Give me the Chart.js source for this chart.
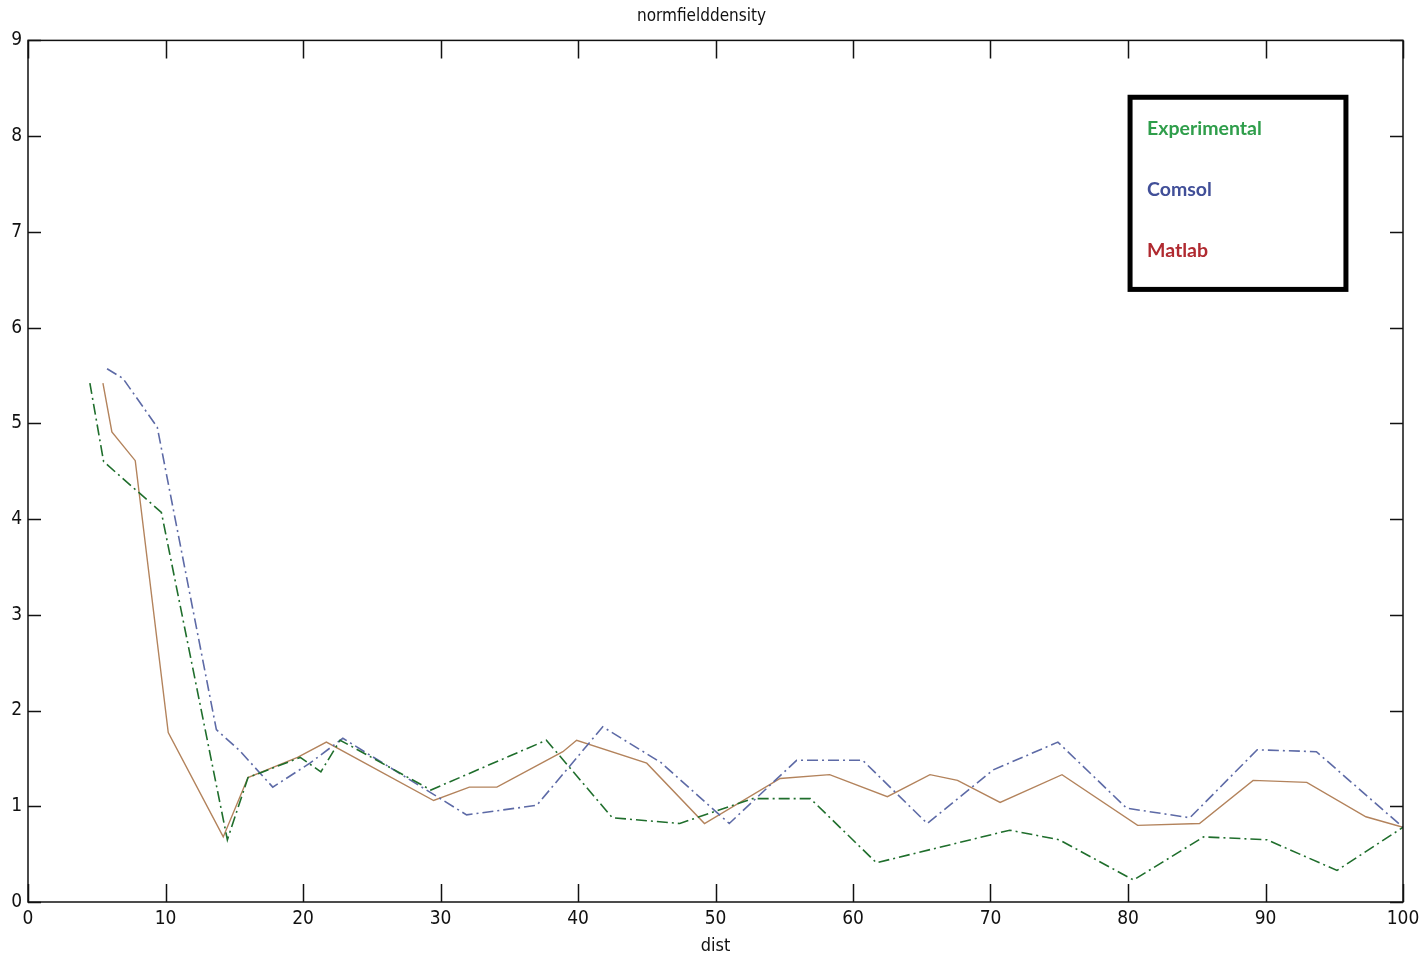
<!DOCTYPE html>
<html>
<head>
<meta charset="utf-8">
<script src="https://cdn.jsdelivr.net/npm/chart.js@4/dist/chart.umd.min.js"></script>
<style>
  html, body { margin: 0; padding: 0; background: #fff; }
  #wrap { width: 1427px; height: 959px; }
</style>
</head>
<body>
<div id="wrap"><canvas id="grafico"></canvas></div>
<script>
// Valores (dist vs normfielddensity).
const expX = [4.5, 5.5, 9.7, 14.5, 16.0, 19.8, 21.3, 22.7, 23.6, 29.3, 37.7, 42.5, 47.4, 52.7, 56.9, 61.7, 71.4, 75.0, 80.4, 85.5, 90.1, 95.2, 100];
const expY = [5.42, 4.6, 4.07, 0.65, 1.3, 1.51, 1.36, 1.69, 1.62, 1.17, 1.69, 0.88, 0.82, 1.08, 1.08, 0.41, 0.75, 0.65, 0.23, 0.68, 0.65, 0.33, 0.78];

const comsolX = [5.75, 6.9, 9.4, 13.7, 15.4, 17.8, 20.5, 22.9, 31.9, 37.0, 41.8, 46.0, 51.0, 55.9, 60.7, 65.4, 70.2, 74.9, 79.9, 84.5, 89.4, 93.7, 100];
const comsolY = [5.57, 5.47, 4.96, 1.8, 1.58, 1.2, 1.45, 1.71, 0.91, 1.01, 1.83, 1.46, 0.82, 1.48, 1.48, 0.82, 1.38, 1.67, 0.98, 0.88, 1.59, 1.57, 0.78];

const matlabX = [5.45, 6.1, 7.8, 10.2, 14.2, 16.0, 19.6, 21.7, 29.5, 32.1, 34.1, 38.9, 39.9, 45.0, 49.2, 54.7, 58.3, 62.5, 65.6, 67.6, 70.7, 75.2, 80.7, 85.2, 89.1, 93.0, 97.3, 100];
const matlabY = [5.42, 4.91, 4.61, 1.77, 0.68, 1.3, 1.51, 1.67, 1.06, 1.2, 1.2, 1.57, 1.69, 1.45, 0.82, 1.29, 1.33, 1.1, 1.33, 1.27, 1.04, 1.33, 0.8, 0.82, 1.27, 1.25, 0.89, 0.78];

const legendaNomes = ['Experimental', 'Comsol', 'Matlab'];
const legendaCores = ['#2f9e4b', '#414f98', '#b02a30'];

const FONTE = "'Liberation Sans Narrow', 'DejaVu Sans Condensed', Arial, sans-serif";

function pares(xs, ys) {
  return xs.map((x, i) => ({ x, y: ys[i] }));
}

// Caixa estilo MATLAB: moldura completa e marcas de escala para dentro.
const caixaMatlab = {
  id: 'caixaMatlab',
  afterDatasetsDraw(chart) {
    const { ctx, chartArea: a, scales } = chart;
    ctx.save();
    ctx.strokeStyle = '#111';
    ctx.lineWidth = 1.5;
    ctx.strokeRect(a.left, a.top, a.right - a.left, a.bottom - a.top);
    ctx.beginPath();
    scales.x.ticks.forEach((t) => {
      const px = Math.round(scales.x.getPixelForValue(t.value)) + 0.5;
      ctx.moveTo(px, a.bottom); ctx.lineTo(px, a.bottom - 18);
      ctx.moveTo(px, a.top); ctx.lineTo(px, a.top + 18);
    });
    scales.y.ticks.forEach((t) => {
      const py = Math.round(scales.y.getPixelForValue(t.value)) + 0.5;
      ctx.moveTo(a.left, py); ctx.lineTo(a.left + 13, py);
      ctx.moveTo(a.right, py); ctx.lineTo(a.right - 13, py);
    });
    ctx.stroke();

    // Legenda desenhada à mão, como na imagem original.
    const w = a.right - a.left, h = a.bottom - a.top;
    const bx = a.left + 0.8015 * w, by = a.top + 0.066 * h;
    const bw = 0.157 * w, bh = 0.223 * h;
    ctx.lineWidth = 5;
    ctx.strokeStyle = '#000';
    ctx.strokeRect(bx, by, bw, bh);
    ctx.font = "bold 19.5px Lato, 'Open Sans', sans-serif";
    ctx.textBaseline = 'middle';
    legendaNomes.forEach((nome, i) => {
      ctx.fillStyle = legendaCores[i];
      ctx.fillText(nome, bx + 17, by + 31 + i * 61);
    });
    ctx.restore();
  },
};

new Chart(document.getElementById('grafico'), {
  type: 'scatter',
  data: {
    datasets: [
      {
        label: 'Experimental',
        data: pares(expX, expY),
        showLine: true,
        borderColor: '#1f6e2c',
        borderWidth: 1.6,
        borderDash: [11, 4, 2, 4],
        pointRadius: 0,
      },
      {
        label: 'Comsol',
        data: pares(comsolX, comsolY),
        showLine: true,
        borderColor: '#5d6aa6',
        borderWidth: 1.6,
        borderDash: [11, 4, 2, 4],
        pointRadius: 0,
      },
      {
        label: 'Matlab',
        data: pares(matlabX, matlabY),
        showLine: true,
        borderColor: '#b3835c',
        borderWidth: 1.4,
        pointRadius: 0,
      },
    ],
  },
  options: {
    responsive: true,
    maintainAspectRatio: false,
    animation: false,
    layout: { padding: { top: 0, right: 24, left: 0, bottom: 0 } },
    plugins: {
      legend: { display: false },
      tooltip: { enabled: false },
      title: {
        display: true,
        text: 'normfielddensity',
        color: '#111',
        font: { family: FONTE, size: 17, weight: 'normal' },
        padding: { top: 6, bottom: 14 },
      },
    },
    scales: {
      x: {
        type: 'linear',
        min: 0,
        max: 100,
        ticks: { stepSize: 10, color: '#111', font: { family: FONTE, size: 19 }, padding: 6, maxRotation: 0 },
        grid: { display: false, drawTicks: false },
        border: { display: false },
        title: { display: true, text: 'dist', color: '#111', font: { family: FONTE, size: 18 }, padding: { top: 0, bottom: 2 } },
        afterFit: (s) => { s.height = 57; },
      },
      y: {
        min: 0,
        max: 9,
        ticks: { stepSize: 1, color: '#111', font: { family: FONTE, size: 19 }, padding: 6 },
        grid: { display: false, drawTicks: false },
        border: { display: false },
        afterFit: (s) => { s.width = 28; },
      },
    },
  },
  plugins: [caixaMatlab],
});
</script>
</body>
</html>
